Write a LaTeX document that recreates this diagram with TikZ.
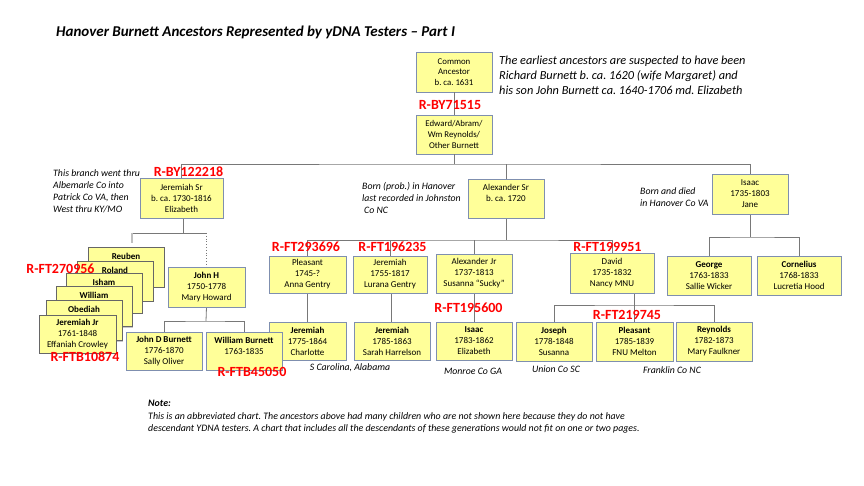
\documentclass[tikz,border=0pt]{standalone}
\usepackage{fontspec}
\setmainfont{Carlito}
\usetikzlibrary{shadows}
\frenchspacing
\definecolor{boxfill}{RGB}{255,255,153}
\definecolor{boxline}{RGB}{127,143,175}
\definecolor{connline}{RGB}{120,120,120}
\definecolor{tagred}{RGB}{255,0,0}
\tikzset{
  box/.style={draw=boxline, fill=boxfill, line width=0.9pt, inner sep=0pt, align=center,
    font=\fontsize{9}{11}\selectfont,
    drop shadow={shadow xshift=1.2pt, shadow yshift=-1.2pt, fill=black!30, opacity=0.7}},
  smallbox/.style={box, font=\fontsize{8.8}{10.8}\selectfont},
  stackbox/.style={box, draw=black!60, minimum width=76, minimum height=40},
  conn/.style={draw=connline, line width=0.8pt},
  tag/.style={text=tagred, font=\fontsize{14}{16}\selectfont\bfseries, inner sep=0pt},
  sidenote/.style={font=\fontsize{9.8}{12}\selectfont\itshape, align=left, inner sep=0pt, anchor=north west},
  place/.style={font=\fontsize{9.8}{11}\selectfont\itshape, inner sep=0pt}
}
\begin{document}
\begin{tikzpicture}[x=1pt,y=-1pt]
\useasboundingbox (0,0) rectangle (864,486);
\fill[white] (0,0) rectangle (864,486);

% title
\node[anchor=west, inner sep=0pt, font=\fontsize{15}{17}\selectfont\bfseries\itshape] (title) at (56,32)
  {Hanover Burnett Ancestors Represented by yDNA Testers -- Part I};

% top note
\node[anchor=north west, inner sep=0pt, align=left, font=\fontsize{12.3}{15}\selectfont\itshape] (topnote) at (499,56)
  {The earliest ancestors are suspected to have been\\Richard Burnett b. ca. 1620 (wife Margaret) and\\his son John Burnett ca. 1640-1706 md. Elizabeth};

% side notes
\node[sidenote] (n1) at (53,169) {This branch went thru\\Albemarle Co into\\Patrick Co VA, then\\West thru KY/MO};
\node[sidenote] (n2) at (362,182) {Born (prob.) in Hanover\\last recorded in Johnston\\\hspace{2pt}Co NC};
\node[sidenote] (n3) at (640,187) {Born and died\\in Hanover Co VA};

% coordinates for connector junctions
\coordinate (top) at (454,164);
\coordinate (amid) at (506,240);
\coordinate (imid) at (750,237);
\coordinate (jmid) at (183,233);
\coordinate (stk) at (132,243);
\coordinate (hmid) at (206,321);
\coordinate (dmid) at (634,305);

% boxes: generation 1
\node[smallbox, minimum width=76, minimum height=40] (ca) at (454,72) {Common\\Ancestor\\b. ca. 1631};
\node[smallbox, minimum width=76, minimum height=39] (ed) at (454,134.5) {Edward/Abram/\\Wm Reynolds/\\Other Burnett};

% connectors
\draw[conn] (ca.south) -- (ed.north);
\draw[conn] (ed.south) -- (top);
\draw[conn] (181.5,178) |- (top) -| (750,174);
\draw[conn] (506,179) -- (506,164);
\draw[conn] (506,218) -- (amid);
\draw[conn] (307.5,256) |- (amid) -| (612,253);
\draw[conn] (390,256) -- (390,240);
\draw[conn] (474,254) -- (474,240);
\draw[conn] (750,214) -- (imid);
\draw[conn] (709,256) |- (imid) -| (799,256);
\draw[conn] (307.5,293) -- (307.5,322);
\draw[conn] (391,293) -- (391,322);
\draw[conn] (474,293) -- (474,322);
\draw[conn] (634,293) -- (634,322);
\draw[conn] (554,322) |- (dmid) -| (714,322);
\draw[conn] (183,218) -- (jmid);
\draw[conn] (stk |- jmid) -- (206.5,233);
\draw[draw=black!25, line width=1.6pt] (stk |- jmid) -- (stk);
\draw[conn, dotted] (206.5,233) -- (206.5,267);
\draw[conn] (206.5,307) -- (hmid);
\draw[conn] (164,332) |- (hmid) -| (244,332);

% generation 2
\node[box, minimum width=83, minimum height=40] (jsr) at (181.5,198) {Jeremiah Sr\\b. ca. 1730-1816\\Elizabeth};
\node[box, minimum width=76, minimum height=39] (asr) at (506,198.5) {Alexander Sr\\b. ca. 1720\\\mbox{}};
\node[box, minimum width=76, minimum height=40] (isaac) at (750,194) {Isaac\\1735-1803\\Jane};

% generation 3
\node[box, minimum width=77, minimum height=37] (pl) at (307.5,274.5) {Pleasant\\1745-?\\Anna Gentry};
\node[box, minimum width=74, minimum height=37] (jer55) at (390,274.5) {Jeremiah\\1755-1817\\Lurana Gentry};
\node[box, minimum width=76, minimum height=39] (ajr) at (474,273.5) {Alexander Jr\\1737-1813\\Susanna ``Sucky''};
\node[box, minimum width=84, minimum height=40] (david) at (612,273) {David\\1735-1832\\Nancy MNU};
\node[box, minimum width=84, minimum height=39] (george) at (709,275.5) {\textbf{George}\\1763-1833\\Sallie Wicker};
\node[box, minimum width=84, minimum height=39] (corn) at (799,275.5) {\textbf{Cornelius}\\1768-1833\\Lucretia Hood};
\node[box, minimum width=77, minimum height=40] (johnh) at (206.5,287) {\textbf{John H}\\1750-1778\\Mary Howard};

% stack
\node[stackbox] (reuben) at (126,267) {\textbf{Reuben}\\\mbox{}\\\mbox{}};
\node[stackbox] (roland) at (115,281) {\textbf{Roland}\\\mbox{}\\\mbox{}};
\node[stackbox] (isham) at (104,293) {\textbf{Isham}\\\mbox{}\\\mbox{}};
\node[stackbox] (william) at (94,306.5) {\textbf{William}\\\mbox{}\\\mbox{}};
\node[stackbox] (obediah) at (84,320.5) {\textbf{Obediah}\\\mbox{}\\\mbox{}};
\node[stackbox, minimum width=77, minimum height=38] (jjr) at (77.5,334) {\textbf{Jeremiah Jr}\\1761-1848\\Effaniah Crowley};

% generation 4
\node[box, minimum width=77, minimum height=38] (j75) at (307.5,341) {\textbf{Jeremiah}\\1775-1864\\Charlotte};
\node[box, minimum width=76, minimum height=38] (j85) at (392,341) {\textbf{Jeremiah}\\1785-1863\\Sarah Harrelson};
\node[box, minimum width=76, minimum height=38] (is83) at (474,341) {\textbf{Isaac}\\1783-1862\\Elizabeth};
\node[box, minimum width=76, minimum height=39] (jos) at (554,341.5) {\textbf{Joseph}\\1778-1848\\Susanna};
\node[box, minimum width=77, minimum height=39] (pl85) at (634.5,341.5) {\textbf{Pleasant}\\1785-1839\\FNU Melton};
\node[box, minimum width=76, minimum height=39] (rey) at (714,341.5) {\textbf{Reynolds}\\1782-1873\\Mary Faulkner};
\node[box, minimum width=76, minimum height=38] (johnd) at (164,351) {\textbf{John D Burnett}\\1776-1870\\Sally Oliver};
\node[box, minimum width=76, minimum height=38] (wb) at (244,351) {\textbf{William Burnett}\\1763-1835\\\mbox{}};

% places
\node[place] (p1) at (350,368) {S Carolina, Alabama};
\node[place] (p2) at (473,371) {Monroe Co GA};
\node[place] (p3) at (556,369) {Union Co SC};
\node[place] (p4) at (672,370) {Franklin Co NC};

% tags
\node[tag] (t1) at (450,105) {R-BY71515};
\node[tag] (t2) at (188.5,172) {R-BY122218};
\node[tag] (t3) at (60.5,269) {R-FT270956};
\node[tag] (t4) at (85,357) {R-FTB10874};
\node[tag] (t5) at (252,372) {R-FTB45050};
\node[tag] (t6) at (306,247) {R-FT293696};
\node[tag] (t7) at (392.5,247) {R-FT196235};
\node[tag] (t8) at (468.5,308) {R-FT195600};
\node[tag] (t9) at (607.5,247) {R-FT199951};
\node[tag] (t10) at (627,315) {R-FT219745};

% note
\node[anchor=north west, inner sep=0pt, align=left, font=\fontsize{9.9}{12.5}\selectfont\itshape] (note) at (148,400)
  {\textbf{Note:}\\This is an abbreviated chart. The ancestors above had many children who are not shown here because they do not have\\descendant YDNA testers. A chart that includes all the descendants of these generations would not fit on one or two pages.};
\end{tikzpicture}
\end{document}
